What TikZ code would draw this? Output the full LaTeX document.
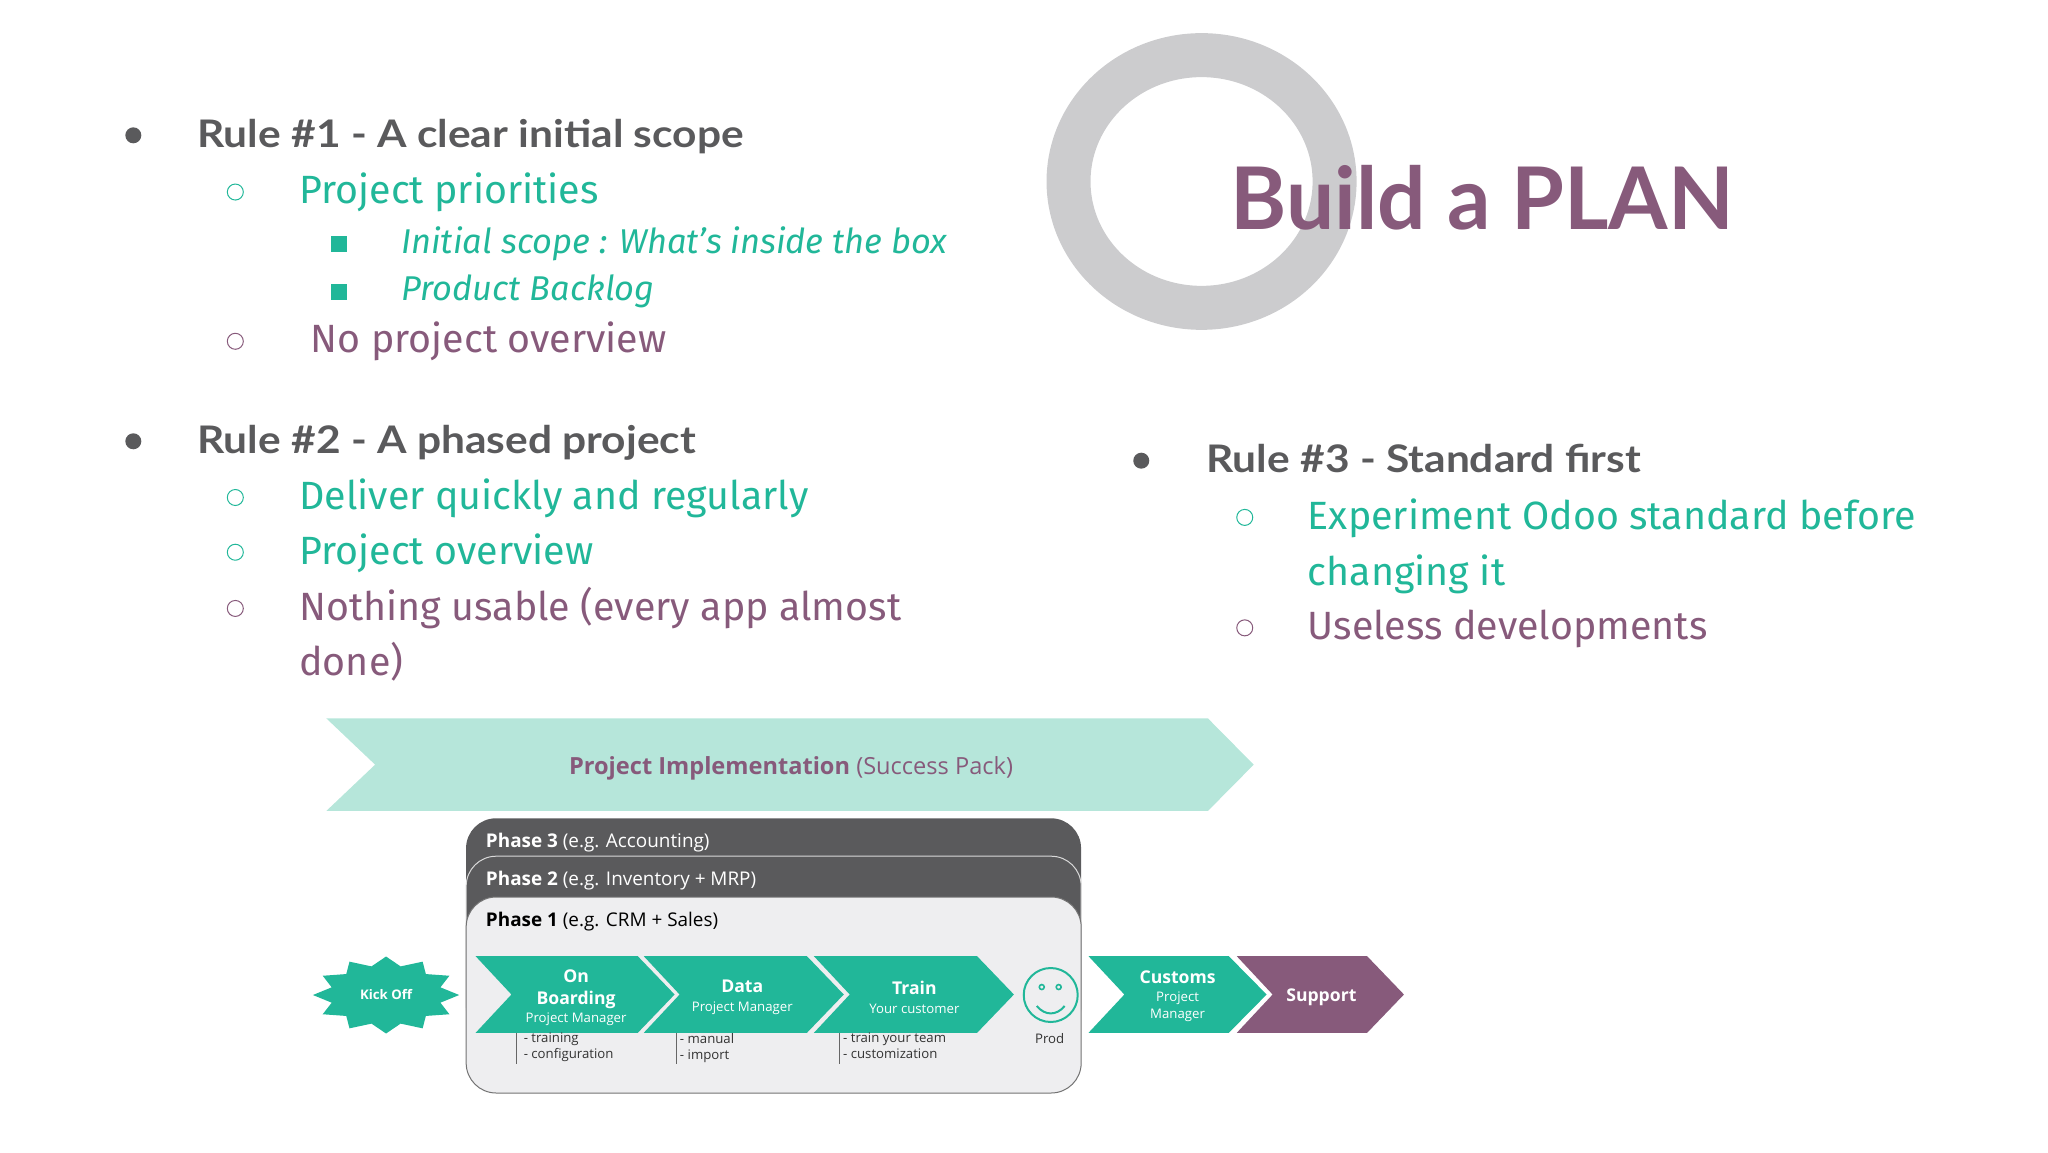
\documentclass[tikz,border=0pt]{standalone}
\usepackage{fontspec}
\usepackage{tikz}
\usetikzlibrary{shapes.geometric}
\setmainfont{Fira Sans}
\newfontfamily\titlefont{Lato}
\newfontfamily\diagfont{Open Sans}
\definecolor{Teal}{RGB}{33,183,153}
\definecolor{Plum}{RGB}{135,90,123}
\definecolor{Slate}{RGB}{90,90,92}
\definecolor{Ring}{RGB}{204,204,206}
\definecolor{Mint}{RGB}{182,230,218}
\definecolor{Paper}{RGB}{238,238,240}
\newcommand{\chevhead}[1]{{\fontsize{8.8}{10.5}\selectfont\bfseries #1}}
\tikzset{
    ruletext/.style={anchor=base west,inner sep=0pt,text=Slate,xscale=1.118,transform shape,font=\titlefont\fontsize{19}{19}\selectfont\bfseries},
    itemteal/.style={anchor=base west,inner sep=0pt,text=Teal,font=\fontsize{19.7}{19.7}\selectfont},
    itemplum/.style={anchor=base west,inner sep=0pt,text=Plum,font=\fontsize{19.7}{19.7}\selectfont},
    subitem/.style={anchor=base west,inner sep=0pt,text=Teal,font=\fontsize{17.2}{17.2}\selectfont\itshape},
    dotA/.style={circle,fill=Slate,inner sep=0pt,minimum size=8pt},
    dotB/.style={circle,draw=#1,line width=.5pt,inner sep=0pt,minimum size=8pt},
    dotC/.style={rectangle,fill=Teal,inner sep=0pt,minimum size=8pt},
    card/.style={anchor=north west,rounded corners=15pt,inner sep=0pt,minimum width=307.5pt},
    phasetext/.style={anchor=west,inner sep=0pt,font=\diagfont\fontsize{9.45}{9.45}\selectfont},
    chevtext/.style={inner sep=0pt,text=white,align=center,font=\diagfont\fontsize{6.6}{8.5}\selectfont},
    steptext/.style={anchor=north west,inner sep=0pt,text=black!80,align=left,font=\diagfont\fontsize{6.6}{8}\selectfont},
}
\begin{document}
\begin{tikzpicture}[x=0.4975pt,y=-0.4975pt]
    \useasboundingbox (0,0) rectangle (2058.3,1158);

    % title
    \draw[Ring,line width=22pt] (1207.6,182.4) ellipse (133.7 and 127);
    \node[anchor=base west,inner sep=0pt,text=Plum,xscale=.99,transform shape,font=\titlefont\fontsize{43.2}{43.2}\selectfont\bfseries] (title) at (1236.6,230.5) {Build a PLAN};

    % rule 1
    \node[dotA] (bulletA) at (134,136) {};
    \node[ruletext] (ruleA) at (198,148) {Rule \#1 - A clear initial scope};
    \node[dotB=Teal] (bulletAa) at (236.5,193) {};
    \node[itemteal] (priorities) at (300.5,205) {Project priorities};
    \node[dotC] (bulletAb) at (341,245.5) {};
    \node[subitem] (scope) at (403,255) {Initial scope : What’s inside the box};
    \node[dotC] (bulletAc) at (341,293) {};
    \node[subitem] (backlog) at (403,302) {Product Backlog};
    \node[dotB=Plum] (bulletAd) at (236.5,343) {};
    \node[itemplum] (nooverview) at (312,354.5) {No project overview};

    % rule 2
    \node[dotA] (bulletB) at (134,443.5) {};
    \node[ruletext] (ruleB) at (198,455.5) {Rule \#2 - A phased project};
    \node[dotB=Teal] (bulletBa) at (236.5,500) {};
    \node[itemteal] (deliver) at (300.5,512) {Deliver quickly and regularly};
    \node[dotB=Teal] (bulletBb) at (236.5,555) {};
    \node[itemteal] (overview) at (300.5,567) {Project overview};
    \node[dotB=Plum] (bulletBc) at (236.5,611.5) {};
    \node[itemplum] (nothing) at (300.5,623.5) {Nothing usable (every app almost};
    \node[itemplum] (done) at (300.5,679) {done)};

    % rule 3
    \node[dotA] (bulletC) at (1147,463) {};
    \node[ruletext] (ruleC) at (1212,475) {Rule \#3 - Standard first};
    \node[dotB=Teal] (bulletCa) at (1251,520) {};
    \node[itemteal] (experiment) at (1314,532) {Experiment Odoo standard before};
    \node[itemteal] (changing) at (1314,588) {changing it};
    \node[dotB=Plum] (bulletCb) at (1251,631) {};
    \node[itemplum] (useless) at (1314,643) {Useless developments};

    % banner
    \fill[Mint] (328,722) -- (1214,722) -- (1260,768.5) -- (1214,815) -- (328,815) -- (377,768.5) -- cycle;
    \node[inner sep=0pt,text=Plum,font=\diagfont\fontsize{11.8}{11.8}\selectfont] (banner) at (795,772) {\textbf{Project Implementation} (Success Pack)};

    % phases
    \node[card,fill=Slate,minimum height=100pt] (phaseC) at (468,822) {};
    \node[card,fill=Slate,draw=white!85!black,line width=.5pt,minimum height=90pt] (phaseB) at (468,860) {};
    \node[card,fill=Paper,draw=black!55,line width=.5pt,minimum height=98pt] (phaseA) at (468,901) {};
    \node[phasetext,text=white] (labelC) at (488,846.5) {\textbf{Phase 3} (e.g. Accounting)};
    \node[phasetext,text=white] (labelB) at (488,885.5) {\textbf{Phase 2} (e.g. Inventory + MRP)};
    \node[phasetext,text=black] (labelA) at (488,926.5) {\textbf{Phase 1} (e.g. CRM + Sales)};

    % chevrons
    \foreach \l/\n/\s/\t in {478/514/641/678,647/683/811/848,818/854/982/1019,1094/1130/1235/1273}
        \fill[Teal] (\l,961) -- (\s,961) -- (\t,999.5) -- (\s,1038) -- (\l,1038) -- (\n,999.5) -- cycle;
    \fill[Plum] (1243,961) -- (1374,961) -- (1411,999.5) -- (1374,1038) -- (1243,1038) -- (1279,999.5) -- cycle;

    \node[chevtext] (onboarding) at (579,1002.5) {\chevhead{On}\\[2.5pt]\chevhead{Boarding}\\[.5pt]Project Manager};
    \node[chevtext] (data) at (746,1002.5) {\chevhead{Data}\\[1pt]Project Manager};
    \node[chevtext] (train) at (919,1002.5) {\chevhead{Train}\\[1pt]Your customer};
    \node[chevtext] (customs) at (1183.5,1001.5) {\chevhead{Customs}\\[.5pt]Project\\Manager};
    \node[chevtext] (support) at (1328,1002) {\chevhead{Support}};

    % kick off
    \node[star,star points=12,star point ratio=1.3,fill=Teal,inner sep=0pt,minimum size=38.5pt,xscale=1.9,transform shape] (kickstar) at (388,1000) {};
    \node[chevtext,font=\diagfont\fontsize{6.6}{8}\selectfont\bfseries] (kickoff) at (388,1000) {Kick Off};

    % steps under the chevrons
    \node[steptext] (stepA) at (526,1038) {- training\\- configuration};
    \node[steptext] (stepB) at (683,1038) {- manual\\- import};
    \node[steptext] (stepC) at (847,1038) {- train your team\\- customization};
    \draw[black!60,line width=.4pt] (stepA.north west) ++(-7,0) -- ++(0,31);
    \draw[black!60,line width=.4pt] (stepB.north west) ++(-3,0) -- ++(0,31);
    \draw[black!60,line width=.4pt] (stepC.north west) ++(-3,0) -- ++(0,31);

    % prod
    \node[circle,draw=Teal,line width=1pt,inner sep=0pt,minimum size=27pt] (smile) at (1056,1000) {};
    \draw[Teal,line width=.8pt] (1047,992) circle (2.5) (1064,992) circle (2.5);
    \draw[Teal,line width=1pt] (1042,1011) .. controls (1050,1021) and (1062,1021) .. (1070,1011);
    \node[steptext,anchor=center] (prod) at (1055,1044) {Prod};
\end{tikzpicture}
\end{document}
